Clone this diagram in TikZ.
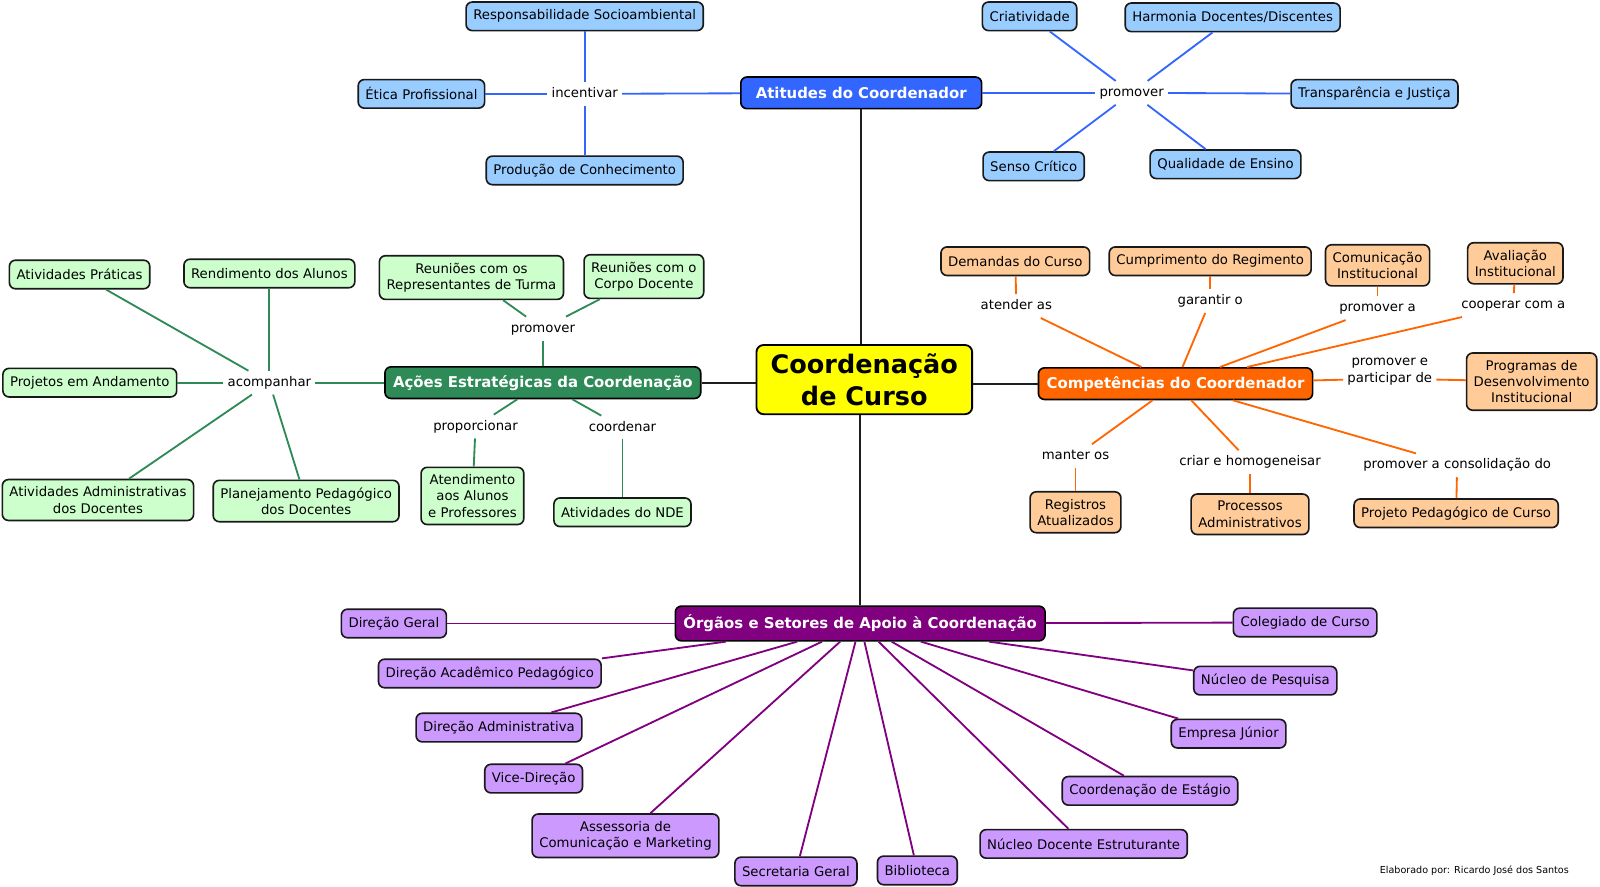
\documentclass[tikz,border=0pt]{standalone}
\usepackage{fontspec}
\setmainfont{DejaVu Sans}
\newcommand\mfs{\fontsize{13}{16}\selectfont}
\newcommand\mbf{\fontsize{14.6}{18}\selectfont\bfseries}
\definecolor{cyel}{RGB}{255,255,0}
\definecolor{cblue}{RGB}{51,102,255}
\definecolor{clblue}{RGB}{153,204,255}
\definecolor{cgreen}{RGB}{46,139,87}
\definecolor{clgreen}{RGB}{204,255,204}
\definecolor{corange}{RGB}{255,102,0}
\definecolor{clorange}{RGB}{255,204,153}
\definecolor{cpurple}{RGB}{128,0,128}
\definecolor{clpurple}{RGB}{204,153,255}
\definecolor{cline}{RGB}{30,30,30}
\tikzset{
  box/.style={rounded corners=6pt, draw=black!90, line width=1.6pt, font=\mfs, align=center,
    inner xsep=7pt, inner ysep=7pt, minimum height=28pt},
  title/.style={rounded corners=6pt, draw=black, line width=1.6pt, font=\mbf, text=white,
    align=center, inner xsep=8pt, inner ysep=5pt, minimum height=31pt},
  lab/.style={font=\mfs, align=center, inner xsep=4pt, inner ysep=5pt, text height=10pt, text depth=3pt},
  lb/.style={box, fill=clblue},
  lg/.style={box, fill=clgreen},
  lo/.style={box, fill=clorange},
  lp/.style={box, fill=clpurple},
  bl/.style={draw=cblue, line width=1.8pt},
  gl/.style={draw=cgreen, line width=1.8pt},
  ol/.style={draw=corange, line width=1.8pt},
  pl/.style={draw=cpurple, line width=1.8pt},
  kl/.style={draw=cline, line width=1.9pt},
}
\begin{document}
\begin{tikzpicture}[x=1pt,y=-1pt]
\useasboundingbox[fill=white] (0,0) rectangle (1568,869);

% central
\node[rounded corners=7pt, draw=black, line width=1.8pt, fill=cyel, font=\fontsize{25}{32}\selectfont\bfseries,
  align=center, inner xsep=14pt, inner ysep=8pt] (cc) at (847,372) {Coordenação\\de Curso};

% ---- Atitudes (blue)
\node[title, fill=cblue, minimum width=236pt] (ati) at (844,91) {Atitudes do Coordenador};
\node[lab] (inc) at (573,92) {incentivar};
\node[lb] (resp) at (573,16) {Responsabilidade Socioambiental};
\node[lb] (etica) at (413,92) {Ética Profissional};
\node[lb] (prod) at (573,167) {Produção de Conhecimento};
\node[lab] (prom1) at (1109,91) {promover};
\node[lb] (cria) at (1009,16) {Criatividade};
\node[lb] (harm) at (1208,17) {Harmonia Docentes/Discentes};
\node[lb] (transp) at (1347,92) {Transparência e Justiça};
\node[lb] (senso) at (1013,163) {Senso Crítico};
\node[lb] (qual) at (1201,161) {Qualidade de Ensino};

\draw[bl] (ati) -- (inc);
\draw[bl] (inc) -- (etica);
\draw[bl] (inc) -- (resp);
\draw[bl] (inc) -- (prod);
\draw[bl] (ati) -- (prom1);
\draw[bl] (prom1) -- (transp);
\draw[bl] (prom1) -- (cria);
\draw[bl] (prom1) -- (harm);
\draw[bl] (prom1) -- (senso);
\draw[bl] (prom1) -- (qual);

% ---- Ações (green)
\node[title, fill=cgreen] (acoes) at (532,375) {Ações Estratégicas da Coordenação};
\node[lab] (prom2) at (532,322) {promover};
\node[lg] (rt) at (462,272) {Reuniões com os\\Representantes de Turma};
\node[lg] (rc) at (631,271) {Reuniões com o\\Corpo Docente};
\node[lab] (acomp) at (264,375) {acompanhar};
\node[lg] (proj) at (88,375) {Projetos em Andamento};
\node[lg] (prat) at (78,269) {Atividades Práticas};
\node[lg] (rend) at (264,268) {Rendimento dos Alunos};
\node[lg] (adm) at (96,490) {Atividades Administrativas\\dos Docentes};
\node[lg] (plan) at (300,491) {Planejamento Pedagógico\\dos Docentes};
\node[lab] (propo) at (466,418) {proporcionar};
\node[lg] (atend) at (463,486) {Atendimento\\aos Alunos\\e Professores};
\node[lab] (coord) at (610,419) {coordenar};
\node[lg] (nde) at (610,502) {Atividades do NDE};

\draw[gl] (acoes) -- (prom2);
\draw[gl] (prom2) -- (rt);
\draw[gl] (prom2) -- (rc);
\draw[gl] (acoes) -- (acomp);
\draw[gl] (acomp) -- (proj);
\draw[gl] (acomp) -- (prat);
\draw[gl] (acomp) -- (rend);
\draw[gl] (acomp) -- (adm);
\draw[gl] (acomp) -- (plan);
\draw[gl] (acoes) -- (propo);
\draw[gl] (propo) -- (atend);
\draw[gl] (acoes) -- (coord);
\draw[gl] (coord) -- (nde);

% ---- Competências (orange)
\node[title, fill=corange] (comp) at (1152,376) {Competências do Coordenador};
\node[lo] (dem) at (995,256) {Demandas do Curso};
\node[lab] (aten) at (996,300) {atender as};
\node[lo] (cump) at (1186,256) {Cumprimento do Regimento};
\node[lab] (gar) at (1186,295) {garantir o};
\node[lo] (comu) at (1350,260) {Comunicação\\Institucional};
\node[lab] (proma) at (1350,302) {promover a};
\node[lo] (aval) at (1485,258) {Avaliação\\Institucional};
\node[lab] (coop) at (1483,299) {cooperar com a};
\node[lo] (progr) at (1501,374) {Programas de\\Desenvolvimento\\Institucional};
\node[lab] (prompart) at (1362,371) {promover e\\participar de};
\node[lo] (reg) at (1054,502) {Registros\\Atualizados};
\node[lab] (mant) at (1054,447) {manter os};
\node[lo] (proc) at (1225,504) {Processos\\Administrativos};
\node[lab] (criar) at (1225,453) {criar e homogeneisar};
\node[lo] (ppc) at (1427,503) {Projeto Pedagógico de Curso};
\node[lab] (cons) at (1428,456) {promover a consolidação do};

\draw[ol] (dem) -- (aten);
\draw[ol] (aten) -- (comp);
\draw[ol] (cump) -- (gar);
\draw[ol] (gar) -- (comp);
\draw[ol] (comu) -- (proma);
\draw[ol] (proma) -- (comp);
\draw[ol] (aval) -- (coop);
\draw[ol] (coop) -- (comp);
\draw[ol] (comp) -- (prompart);
\draw[ol] (prompart) -- (progr);
\draw[ol] (comp) -- (mant);
\draw[ol] (mant) -- (reg);
\draw[ol] (comp) -- (criar);
\draw[ol] (criar) -- (proc);
\draw[ol] (comp) -- (cons);
\draw[ol] (cons) -- (ppc);

% ---- Órgãos (purple)
\node[title, fill=cpurple, minimum height=34pt] (org) at (843,611) {Órgãos e Setores de Apoio à Coordenação};
\node[lp] (dg) at (386,611) {Direção Geral};
\node[lp] (col) at (1279,610) {Colegiado de Curso};
\node[lp] (dap) at (480,660) {Direção Acadêmico Pedagógico};
\node[lp] (dadm) at (489,713) {Direção Administrativa};
\node[lp] (vice) at (523,763) {Vice-Direção};
\node[lp] (asc) at (613,819) {Assessoria de\\Comunicação e Marketing};
\node[lp] (sec) at (780,854) {Secretaria Geral};
\node[lp] (bib) at (899,853) {Biblioteca};
\node[lp] (ndes) at (1062,827) {Núcleo Docente Estruturante};
\node[lp] (est) at (1127,775) {Coordenação de Estágio};
\node[lp] (emp) at (1204,719) {Empresa Júnior};
\node[lp] (pesq) at (1240,667) {Núcleo de Pesquisa};

\foreach \t in {dg,col,dap,dadm,vice,asc,sec,bib,ndes,est,emp,pesq}
  \draw[pl] (org) -- (\t);

% ---- black connectors
\draw[kl] (ati) -- (ati |- cc.north);
\draw[kl] (org) -- (org |- cc.south);
\draw[kl] (acoes) -- (acoes -| cc.west);
\draw[kl] (comp) -- (comp -| cc.east);

\node[font=\fontsize{9.4}{11}\selectfont, anchor=west, inner sep=0pt] (cred) at (1352,853) {Elaborado por: Ricardo José dos Santos};
\end{tikzpicture}
\end{document}
